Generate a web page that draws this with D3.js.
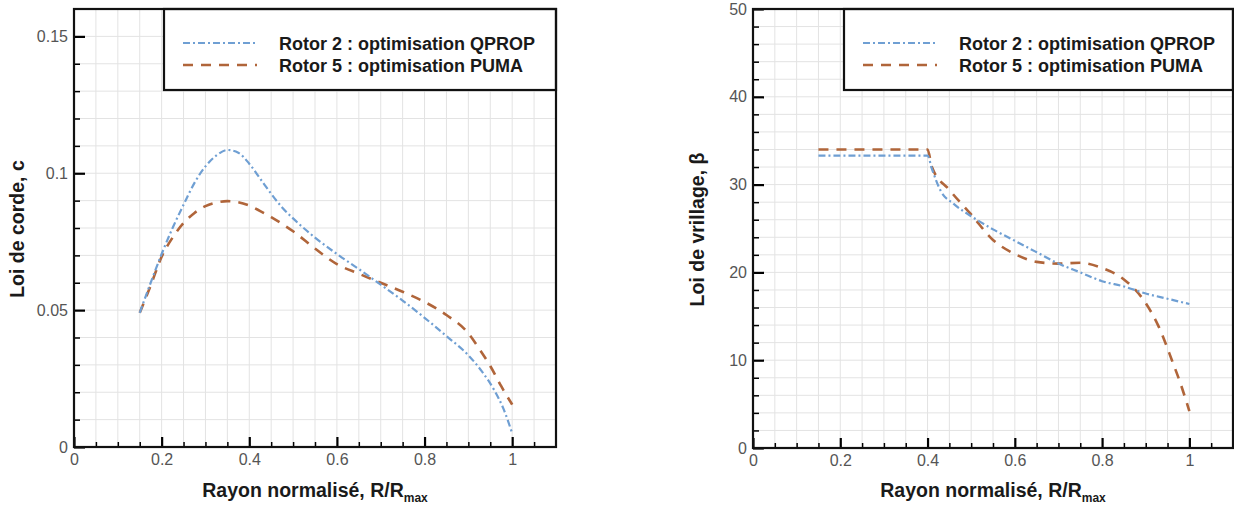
<!DOCTYPE html>
<html><head><meta charset="utf-8">
<script src="https://cdn.jsdelivr.net/npm/d3@7"></script>
<style>body{margin:0;background:#fff}svg{display:block}</style>
</head><body><svg id="c" width="1234" height="509"></svg>
<script>
// ---- Data ----
const seriesNames = ["Rotor 2 : optimisation QPROP", "Rotor 5 : optimisation PUMA"];

// Left chart: chord law c vs R/Rmax
const chordR2_r = [0.15,0.175,0.2,0.225,0.25,0.275,0.3,0.325,0.35,0.375,0.4,0.425,0.45,0.475,0.5,0.55,0.6,0.65,0.7,0.75,0.8,0.85,0.9,0.93,0.96,0.98,1.0];
const chordR2_c = [0.049,0.060,0.0705,0.080,0.0885,0.0965,0.1025,0.1065,0.1085,0.1075,0.1035,0.098,0.0925,0.0875,0.0835,0.0765,0.0705,0.065,0.0593,0.0535,0.0472,0.0405,0.0335,0.0278,0.0205,0.014,0.005];
const chordR5_r = [0.15,0.175,0.2,0.225,0.25,0.275,0.3,0.325,0.35,0.375,0.4,0.425,0.45,0.475,0.5,0.55,0.6,0.65,0.7,0.75,0.8,0.85,0.9,0.925,0.95,0.975,1.0];
const chordR5_c = [0.049,0.059,0.0695,0.0765,0.0818,0.0855,0.088,0.0893,0.0898,0.0894,0.0882,0.0862,0.084,0.0815,0.0788,0.0725,0.0668,0.0633,0.060,0.0567,0.053,0.0482,0.0415,0.0358,0.0296,0.0222,0.0155];

// Right chart: twist law beta vs R/Rmax
const twistR2_r = [0.15,0.2,0.3,0.4,0.41,0.43,0.46,0.5,0.55,0.6,0.65,0.7,0.75,0.8,0.85,0.9,0.95,1.0];
const twistR2_b = [33.3,33.3,33.3,33.3,31.8,29.3,27.8,26.4,24.9,23.6,22.3,21.0,20.0,19.0,18.4,17.6,17.0,16.4];
const twistR5_r = [0.15,0.2,0.3,0.4,0.41,0.45,0.5,0.55,0.6,0.65,0.7,0.75,0.8,0.85,0.9,0.93,0.96,0.98,1.0];
const twistR5_b = [34.0,34.0,34.0,34.0,32.0,29.4,26.6,23.7,22.1,21.2,21.0,21.1,20.5,19.2,16.5,13.8,10.0,7.3,4.2];

// Axis ticks
const xTicks = [0,0.2,0.4,0.6,0.8,1];
const xTickLabels = ["0","0.2","0.4","0.6","0.8","1"];
const chordTicks = [0,0.05,0.1,0.15];
const chordTickLabels = ["0","0.05","0.1","0.15"];
const twistTicks = [0,10,20,30,40,50];
const twistTickLabels = ["0","10","20","30","40","50"];

const COL_BLUE = "#6f9fd3", COL_BROWN = "#b0653a";
const FONT = "'Liberation Sans', Arial, Helvetica, sans-serif";

const svg = d3.select("#c");

function panel(cfg){
  const x = d3.scaleLinear().domain([0,1.1]).range([cfg.x0,cfg.x1]);
  const y = d3.scaleLinear().domain(cfg.ydom).range([cfg.y1,cfg.y0]);
  const g = svg.append("g");
  // grid
  const gx = d3.range(1,22).map(i=>i*0.05).filter(v=>v<1.099);
  const gy = d3.range(1,200).map(i=>i*cfg.minorY).filter(v=>v<cfg.ydom[1]-1e-9);
  g.append("g").selectAll("line").data(gx).join("line")
    .attr("x1",d=>x(d)).attr("x2",d=>x(d)).attr("y1",cfg.y0).attr("y2",cfg.y1)
    .attr("stroke","#e3e3e3").attr("stroke-width",1);
  g.append("g").selectAll("line").data(gy).join("line")
    .attr("y1",d=>y(d)).attr("y2",d=>y(d)).attr("x1",cfg.x0).attr("x2",cfg.x1)
    .attr("stroke","#e3e3e3").attr("stroke-width",1);

  // minor ticks
  const minX = d3.axisBottom(x).tickValues(gx.filter(v=>Math.abs(v/0.2-Math.round(v/0.2))>1e-6)).tickSize(-5).tickFormat("").tickSizeOuter(0);
  g.append("g").attr("transform",`translate(0,${cfg.y1})`).call(minX)
    .call(s=>{s.select(".domain").remove(); s.selectAll("line").attr("stroke","#000").attr("stroke-width",1.5);});
  const minY = d3.axisLeft(y).tickValues(gy.filter(v=>!cfg.yticks.some(t=>Math.abs(t-v)<1e-9))).tickSize(-6).tickFormat("").tickSizeOuter(0);
  g.append("g").attr("transform",`translate(${cfg.x0},0)`).call(minY)
    .call(s=>{s.select(".domain").remove(); s.selectAll("line").attr("stroke","#000").attr("stroke-width",1.5);});

  // major ticks
  const axX = d3.axisBottom(x).tickValues(xTicks).tickSize(-10).tickSizeOuter(0).tickPadding(7)
    .tickFormat((d,i)=>xTickLabels[i]);
  g.append("g").attr("transform",`translate(0,${cfg.y1})`).call(axX)
    .call(s=>{s.select(".domain").remove(); s.selectAll("line").attr("stroke","#000").attr("stroke-width",2.2);
      s.selectAll("text").attr("font-family",FONT).attr("font-size",16).attr("fill","#555");});
  const axY = d3.axisLeft(y).tickValues(cfg.yticks).tickSize(-11).tickSizeOuter(0).tickPadding(6)
    .tickFormat((d,i)=>cfg.ylabels[i]);
  g.append("g").attr("transform",`translate(${cfg.x0},0)`).call(axY)
    .call(s=>{s.select(".domain").remove(); s.selectAll("line").attr("stroke","#000").attr("stroke-width",2.2);
      s.selectAll("text").attr("font-family",FONT).attr("font-size",16).attr("fill","#555");});

  // curves
  const line = d3.line().x(d=>x(d[0])).y(d=>y(d[1])).curve(d3.curveMonotoneX);
  const d1 = cfg.s1r.map((r,i)=>[r,cfg.s1v[i]]);
  const d2 = cfg.s2r.map((r,i)=>[r,cfg.s2v[i]]);
  g.append("path").attr("d",line(d2)).attr("fill","none").attr("stroke",COL_BROWN)
    .attr("stroke-width",2.6).attr("stroke-dasharray","10,8");
  g.append("path").attr("d",line(d1)).attr("fill","none").attr("stroke",COL_BLUE)
    .attr("stroke-width",2.2).attr("stroke-dasharray","7,3,2,3");

  // legend box
  const lx = cfg.x0 + cfg.legOff;
  g.append("rect").attr("x",lx).attr("y",cfg.y0).attr("width",cfg.x1-lx).attr("height",81)
    .attr("fill","#fff").attr("stroke","#111").attr("stroke-width",2.2);
  const legItems = [{c:COL_BLUE,da:"7,3,2,3",w:2.2,yy:cfg.y0+34},{c:COL_BROWN,da:"10,8",w:2.6,yy:cfg.y0+56}];
  legItems.forEach((it,i)=>{
    g.append("line").attr("x1",lx+19).attr("x2",lx+93).attr("y1",it.yy).attr("y2",it.yy)
      .attr("stroke",it.c).attr("stroke-width",it.w).attr("stroke-dasharray",it.da);
    g.append("text").attr("x",lx+115).attr("y",it.yy+6.5).text(seriesNames[i])
      .attr("font-family",FONT).attr("font-weight","bold").attr("font-size",18).attr("fill","#1a1a1a");
  });

  // frame
  g.append("rect").attr("x",cfg.x0).attr("y",cfg.y0).attr("width",cfg.x1-cfg.x0).attr("height",cfg.y1-cfg.y0)
    .attr("fill","none").attr("stroke","#111").attr("stroke-width",2.2);

  // axis titles
  const xt = g.append("text").attr("x",(cfg.x0+cfg.x1)/2).attr("y",497).attr("text-anchor","middle")
    .attr("font-family",FONT).attr("font-weight","bold").attr("font-size",19.5).attr("fill","#1a1a1a");
  xt.append("tspan").text("Rayon normalisé, R/R");
  xt.append("tspan").attr("dy",5).attr("font-size",12).text("max");
  g.append("text").attr("transform",`translate(${cfg.ytx},${(cfg.y0+cfg.y1)/2+1}) rotate(-90)`)
    .attr("text-anchor","middle").attr("font-family",FONT).attr("font-weight","bold").attr("font-size",19.5)
    .attr("fill","#1a1a1a").text(cfg.ytitle);
}

panel({x0:74,x1:556,y0:9,y1:447,ydom:[0,0.16],minorY:0.01,yticks:chordTicks,ylabels:chordTickLabels,
  s1r:chordR2_r,s1v:chordR2_c,s2r:chordR5_r,s2v:chordR5_c,legOff:90,ytx:24,ytitle:"Loi de corde, c"});
panel({x0:753,x1:1233,y0:9,y1:448,ydom:[0,50],minorY:2,yticks:twistTicks,ylabels:twistTickLabels,
  s1r:twistR2_r,s1v:twistR2_b,s2r:twistR5_r,s2v:twistR5_b,legOff:91,ytx:704,ytitle:"Loi de vrillage, β"});
</script></body></html>
